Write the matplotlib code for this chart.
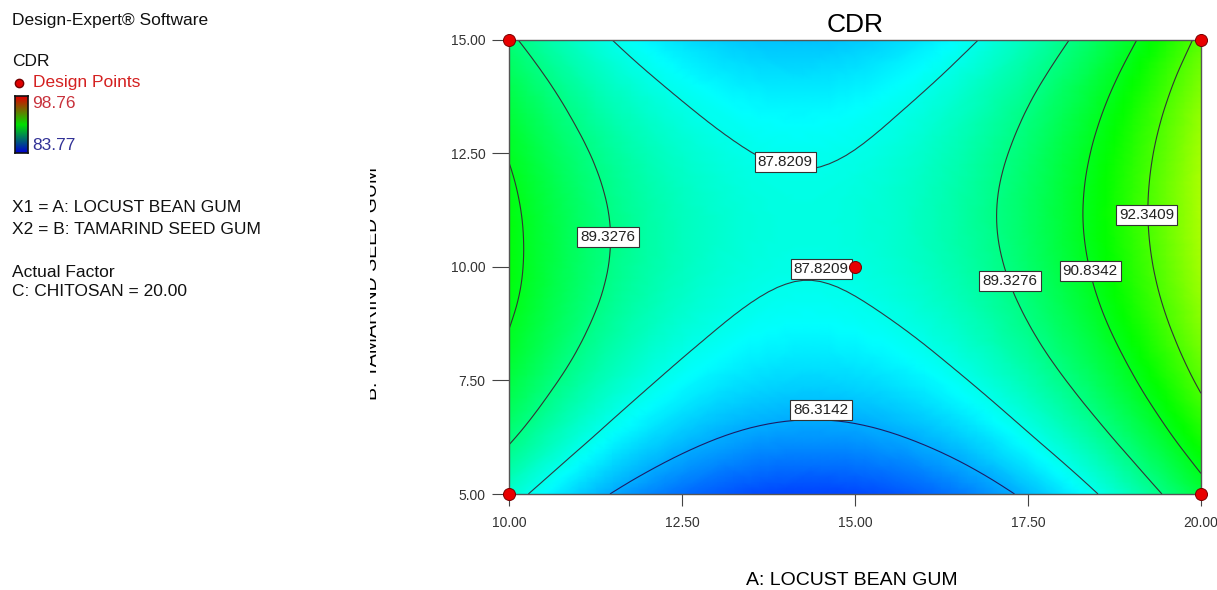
import matplotlib
matplotlib.use("Agg")
import matplotlib.pyplot as plt
import matplotlib.tri as tri
from matplotlib.colors import LinearSegmentedColormap
from matplotlib.patches import Rectangle
import numpy as np

plt.rcParams['font.family'] = ['Liberation Sans', 'DejaVu Sans']

# ==========================================
# DATA
# ==========================================

# A: LOCUST BEAN GUM (x) and B: TAMARIND SEED GUM (y)
locust = [10, 11, 12, 13, 14, 15, 16, 17, 18, 19, 20]
tamarind = [5, 6, 7, 8, 9, 10, 11, 12, 13, 14, 15]

# CDR, one row per tamarind value
cdr = [
    [88.24, 86.84, 85.80, 85.12, 84.80, 84.84, 85.24, 86.01, 87.12, 88.58, 90.37],
    [89.25, 87.85, 86.81, 86.12, 85.80, 85.84, 86.24, 86.99, 88.10, 89.56, 91.36],
    [90.03, 88.64, 87.61, 86.93, 86.61, 86.65, 87.05, 87.80, 88.92, 90.38, 92.18],
    [90.59, 89.23, 88.20, 87.54, 87.22, 87.27, 87.67, 88.44, 89.56, 91.02, 92.84],
    [90.95, 89.61, 88.60, 87.95, 87.65, 87.71, 88.12, 88.89, 90.02, 91.50, 93.32],
    [91.12, 89.80, 88.82, 88.18, 87.89, 87.96, 88.39, 89.17, 90.31, 91.80, 93.64],
    [91.10, 89.81, 88.85, 88.23, 87.96, 88.04, 88.48, 89.28, 90.43, 91.93, 93.78],
    [90.92, 89.65, 88.71, 88.11, 87.86, 87.95, 88.40, 89.21, 90.37, 91.88, 93.74],
    [90.58, 89.33, 88.42, 87.84, 87.60, 87.70, 88.16, 88.97, 90.14, 91.66, 93.53],
    [90.10, 88.88, 87.98, 87.41, 87.18, 87.30, 87.76, 88.58, 89.75, 91.27, 93.14],
    [89.50, 88.30, 87.42, 86.86, 86.63, 86.75, 87.22, 88.03, 89.20, 90.71, 92.58],
]

levels = [86.3142, 87.8209, 89.3276, 90.8342, 92.3409]

# where each contour label sits (x, y)
label_levels = [87.8209, 89.3276, 87.8209, 86.3142, 89.3276, 90.8342, 92.3409]
label_x = [13.99, 11.43, 14.51, 14.51, 17.24, 18.40, 19.21]
label_y = [12.31, 10.66, 9.96, 6.85, 9.69, 9.91, 11.15]

design_x = [10, 20, 10, 20, 15]
design_y = [15, 15, 5, 5, 10]

ticks_x = [10.0, 12.5, 15.0, 17.5, 20.0]
ticks_y = [5.0, 7.5, 10.0, 12.5, 15.0]

cdr_min = 83.77
cdr_max = 98.76

# ==========================================
# FIGURE
# ==========================================

W, H = 1217, 590
fig = plt.figure(figsize=(W / 100, H / 100), dpi=100)
ax = fig.add_axes([509 / W, 1 - 494 / H, 692 / W, 454 / H])

cmap = LinearSegmentedColormap.from_list(
    "de", ["#0000ff", "#00ffff", "#00ff00", "#ffff00", "#ff0000"])

X, Y = np.meshgrid(locust, tamarind)
Z = np.array(cdr)

triang = tri.Triangulation(X.ravel().astype(float), Y.ravel().astype(float))
refiner = tri.UniformTriRefiner(triang)
tri_fine, z_fine = refiner.refine_field(Z.ravel(), subdiv=3)

ax.tripcolor(tri_fine, z_fine, shading="gouraud", cmap=cmap,
             vmin=cdr_min, vmax=cdr_max)

ax.tricontour(tri_fine, z_fine, levels=levels,
              colors=["#1c1c66", "#2e3a44", "#333333", "#333333", "#333333"],
              linewidths=0.8)

# contour labels
for lv, lx, ly in zip(label_levels, label_x, label_y):
    ax.text(lx, ly, "%.4f" % lv, fontsize=11, ha="center", va="center",
            color="#222222", zorder=5,
            bbox=dict(facecolor="white", edgecolor="#333333",
                      linewidth=0.8, boxstyle="square,pad=0.2"))

# design points
ax.scatter(design_x, design_y, s=75, color="#e80000", edgecolor="#7a0000",
           linewidth=0.7, zorder=6, clip_on=False)

ax.set_xlim(10, 20)
ax.set_ylim(5, 15)
ax.set_xticks(ticks_x)
ax.set_yticks(ticks_y)
ax.set_xticklabels(["%.2f" % t for t in ticks_x])
ax.set_yticklabels(["%.2f" % t for t in ticks_y])
ax.tick_params(axis="y", length=12, pad=5, labelsize=10, color="#444444",
               labelcolor="#333333")
ax.tick_params(axis="x", length=8.5, pad=7, labelsize=10, color="#444444",
               labelcolor="#333333")
for s in ax.spines.values():
    s.set_color("#555555")
    s.set_linewidth(1.0)

ax.set_title("CDR", fontsize=19, pad=6)

# x label sits right at the bottom edge, as in the original
fig.text(852 / W, 1 - 589 / H, "A: LOCUST BEAN GUM", fontsize=14,
         ha="center", va="bottom")

# y label, half hidden by the legend panel like in the original
fig.text(381 / W, 1 - 283 / H, "B: TAMARIND SEED GUM", rotation=90,
         fontsize=14, ha="right", va="center", zorder=1)
fig.patches.append(Rectangle((0, 0), 370 / W, 1, transform=fig.transFigure,
                             facecolor="white", edgecolor="none", zorder=2))

# ==========================================
# LEFT PANEL
# ==========================================

def left_text(px, py, s, color="#111111"):
    fig.text(px / W, 1 - py / H, s, fontsize=12.5, ha="left", va="center",
             color=color, zorder=3)


left_text(12, 20, "Design-Expert® Software")
left_text(12, 62, "CDR")
left_text(33, 83, "Design Points", color="#d42020")
left_text(32, 104, "%.2f" % cdr_max, color="#c8323c")
left_text(32, 146, "%.2f" % cdr_min, color="#323296")
left_text(12, 208, "X1 = A: LOCUST BEAN GUM")
left_text(12, 229, "X2 = B: TAMARIND SEED GUM")
left_text(12, 272, "Actual Factor")
left_text(12, 292, "C: CHITOSAN = %.2f" % 20.0)

fig.add_artist(plt.Line2D([19 / W], [1 - 83 / H], marker="o", markersize=6,
                          color="#e00000", markeredgecolor="#700000",
                          transform=fig.transFigure, zorder=3))

cax = fig.add_axes([15 / W, 1 - 153 / H, 13 / W, 57 / H], zorder=3)
bar_cmap = LinearSegmentedColormap.from_list("bar", ["#e00000", "#00e000", "#0000d0"])
cax.imshow(np.linspace(0, 1, 100).reshape(-1, 1), aspect="auto", cmap=bar_cmap)
cax.set_xticks([])
cax.set_yticks([])
for s in cax.spines.values():
    s.set_color("#111111")
    s.set_linewidth(1.2)

plt.savefig("out.png", dpi=100)
